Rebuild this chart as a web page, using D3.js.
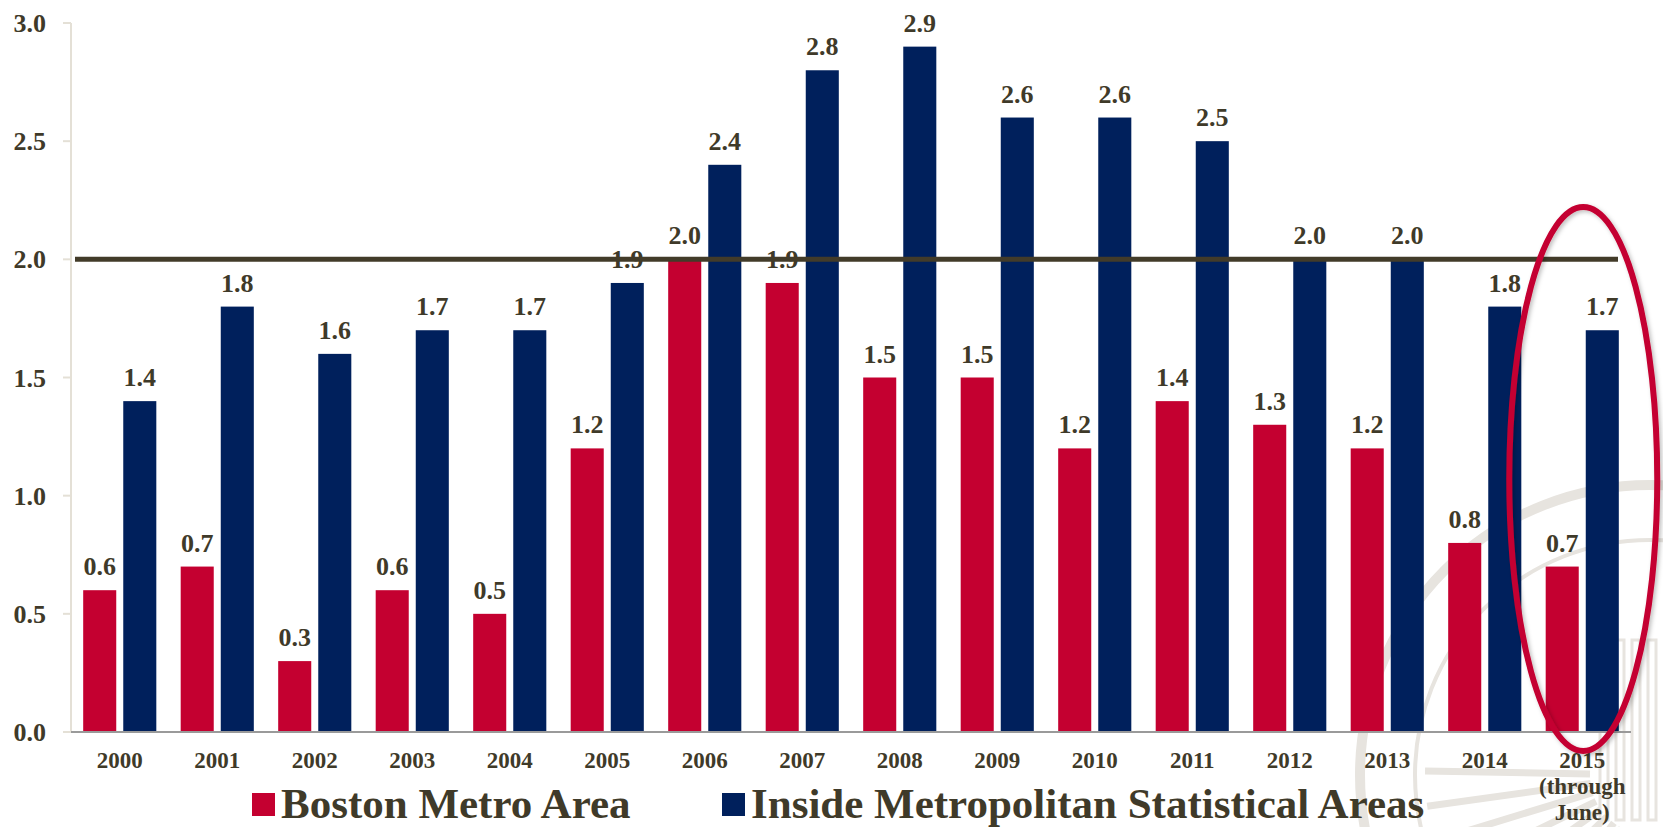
<!DOCTYPE html>
<html>
<head>
<meta charset="utf-8">
<script src="https://cdn.jsdelivr.net/npm/d3@7"></script>
<style>
  html, body { margin: 0; padding: 0; background: #ffffff; }
  svg { display: block; }
  text { font-family: "Liberation Serif", "Times New Roman", serif; font-weight: bold; fill: #3f3a29; }
</style>
</head>
<body>
<svg id="chart" width="1663" height="827"></svg>
<script>
// Years on the category axis (the last one is a partial year)
const years = ["2000","2001","2002","2003","2004","2005","2006","2007","2008","2009","2010","2011","2012","2013","2014","2015"];
const yearLabels = [["2000"],["2001"],["2002"],["2003"],["2004"],["2005"],["2006"],["2007"],["2008"],["2009"],["2010"],["2011"],["2012"],["2013"],["2014"],["2015","(through","June)"]];

// Series values
const bostonMetro = [0.6, 0.7, 0.3, 0.6, 0.5, 1.2, 2.0, 1.9, 1.5, 1.5, 1.2, 1.4, 1.3, 1.2, 0.8, 0.7];
const insideMSA   = [1.4, 1.8, 1.6, 1.7, 1.7, 1.9, 2.4, 2.8, 2.9, 2.6, 2.6, 2.5, 2.0, 2.0, 1.8, 1.7];

const seriesNames = ["Boston Metro Area", "Inside Metropolitan Statistical Areas"];
const yTicks = [0, 0.5, 1.0, 1.5, 2.0, 2.5, 3.0];
const referenceLevel = 2.0;

const colors = { boston: "#c40030", msa: "#00205c", text: "#3f3a29", refLine: "#423b29", axis: "#e4e0d6", base: "#9a9a9a" };

const svg = d3.select("#chart");
const plot = { left: 71, right: 1631, top: 23, bottom: 732 };

const x0 = d3.scaleBand().domain(years).range([plot.left, plot.right]).paddingInner(0.25).paddingOuter(0.125);
const x1 = d3.scaleBand().domain(["boston","msa"]).range([0, x0.bandwidth()]).paddingInner(0.175);
const y = d3.scaleLinear().domain([0, 3]).range([plot.bottom, plot.top]);

// Faint seal motif in the lower right background
const seal = svg.append("g").attr("fill", "none").attr("stroke", "#e7e4df");
const sc = { x: 1650, y: 775 };
seal.append("circle").attr("cx", sc.x).attr("cy", sc.y).attr("r", 290).attr("stroke-width", 10);
seal.append("circle").attr("cx", sc.x).attr("cy", sc.y).attr("r", 235).attr("stroke-width", 4);
d3.range(-80, 10, 9).forEach(a => {
  const r = a * Math.PI / 180;
  seal.append("line")
    .attr("x1", sc.x + Math.cos(Math.PI + r) * 60).attr("y1", sc.y + Math.sin(Math.PI + r) * 60)
    .attr("x2", sc.x + Math.cos(Math.PI + r) * 225).attr("y2", sc.y + Math.sin(Math.PI + r) * 225)
    .attr("stroke-width", 7);
});
d3.range(0, 4).forEach(i => {
  seal.append("rect").attr("x", 1600 + i * 16).attr("y", 640).attr("width", 8).attr("height", 180).attr("stroke-width", 3);
});

// Y axis line and ticks
svg.append("line").attr("x1", plot.left).attr("x2", plot.left).attr("y1", y(3)).attr("y2", plot.bottom)
  .attr("stroke", colors.axis).attr("stroke-width", 2);
const yAxis = svg.append("g");
yAxis.selectAll("line").data(yTicks).join("line")
  .attr("x1", plot.left - 8).attr("x2", plot.left).attr("y1", d => y(d)).attr("y2", d => y(d))
  .attr("stroke", colors.axis).attr("stroke-width", 2);
yAxis.selectAll("text").data(yTicks).join("text")
  .attr("x", 46).attr("y", d => y(d)).attr("dy", "0.35em").attr("text-anchor", "end")
  .style("font-size", "26px").text(d3.format(".1f"));

// Bars
const groups = svg.append("g").selectAll("g").data(years).join("g")
  .attr("transform", d => `translate(${x0(d)},0)`);
groups.append("rect")
  .attr("x", x1("boston")).attr("width", x1.bandwidth())
  .attr("y", (d, i) => y(bostonMetro[i])).attr("height", (d, i) => y(0) - y(bostonMetro[i]))
  .attr("fill", colors.boston);
groups.append("rect")
  .attr("x", x1("msa")).attr("width", x1.bandwidth())
  .attr("y", (d, i) => y(insideMSA[i])).attr("height", (d, i) => y(0) - y(insideMSA[i]))
  .attr("fill", colors.msa);

// Value labels
groups.append("text")
  .attr("x", x1("boston") + x1.bandwidth() / 2).attr("y", (d, i) => y(bostonMetro[i]) - 15)
  .attr("text-anchor", "middle").style("font-size", "26px")
  .text((d, i) => d3.format(".1f")(bostonMetro[i]));
groups.append("text")
  .attr("x", x1("msa") + x1.bandwidth() / 2).attr("y", (d, i) => y(insideMSA[i]) - 15)
  .attr("text-anchor", "middle").style("font-size", "26px")
  .text((d, i) => d3.format(".1f")(insideMSA[i]));

// Baseline
svg.append("line").attr("x1", plot.left).attr("x2", plot.right).attr("y1", plot.bottom).attr("y2", plot.bottom)
  .attr("stroke", colors.base).attr("stroke-width", 2);

// Category labels
const xl = svg.append("g").selectAll("text").data(years).join("text")
  .attr("x", d => x0(d) + x0.bandwidth() / 2).attr("y", 768)
  .attr("text-anchor", "middle").style("font-size", "23px");
xl.selectAll("tspan").data((d, i) => yearLabels[i]).join("tspan")
  .attr("x", function () { return d3.select(this.parentNode).attr("x"); })
  .attr("dy", (d, j) => j === 0 ? 0 : 26)
  .text(d => d);

// Reference line at 2.0
svg.append("line").attr("x1", plot.left + 4).attr("x2", 1618).attr("y1", y(referenceLevel)).attr("y2", y(referenceLevel))
  .attr("stroke", colors.refLine).attr("stroke-width", 5);

// Highlight ellipse around the latest year
const defs = svg.append("defs");
const f = defs.append("filter").attr("id", "soft").attr("x", "-20%").attr("y", "-20%").attr("width", "140%").attr("height", "140%");
f.append("feDropShadow").attr("dx", 2).attr("dy", 2).attr("stdDeviation", 2).attr("flood-color", "#000").attr("flood-opacity", 0.25);
const last = years[years.length - 1];
svg.append("ellipse")
  .attr("cx", x0(last) + x0.bandwidth() / 2 + 1).attr("cy", 479)
  .attr("rx", 74).attr("ry", 272)
  .attr("fill", "none").attr("stroke", colors.boston).attr("stroke-width", 6)
  .attr("filter", "url(#soft)");

// Legend
const legend = svg.append("g");
const legendItems = [
  { name: seriesNames[0], color: colors.boston, x: 252 },
  { name: seriesNames[1], color: colors.msa, x: 722 }
];
legendItems.forEach(it => {
  legend.append("rect").attr("x", it.x).attr("y", 793).attr("width", 23).attr("height", 23).attr("fill", it.color);
  legend.append("text").attr("x", it.x + 29).attr("y", 818).style("font-size", "43px").text(it.name);
});
</script>
</body>
</html>
